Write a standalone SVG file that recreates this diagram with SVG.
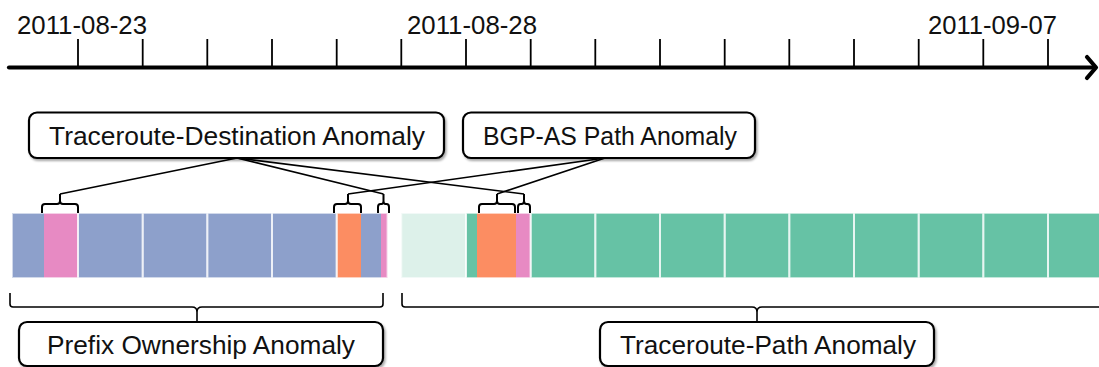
<svg xmlns="http://www.w3.org/2000/svg" width="1099" height="367" viewBox="0 0 1099 367">
  <defs>
    <style>
      .lbl { font-family: "Liberation Sans", Arial, sans-serif; font-size: 26px; fill: #111; }
      .box { fill: #fff; stroke: #000; stroke-width: 2.2; filter: url(#shadow); }
      .tick { stroke: #000; stroke-width: 1.8; }
      .wire { fill: none; stroke: #000; stroke-width: 1.6; }
      .brk { fill: none; stroke: #000; stroke-width: 2; stroke-linejoin: round; }
      .brace { fill: none; stroke: #000; stroke-width: 1.6; }
      .cell { fill: none; stroke: #fff; stroke-opacity: 0.6; stroke-width: 2; }
      .blue { fill: #8da0cb; }
      .pink { fill: #e78ac3; }
      .orange { fill: #fc8d62; }
      .green { fill: #66c2a5; }
      .mint { fill: #ddf1ea; }
    </style>
    <filter id="shadow" x="-5%" y="-20%" width="110%" height="150%">
      <feDropShadow dx="1.5" dy="2" stdDeviation="1.2" flood-color="#000" flood-opacity="0.35"/>
    </filter>
  </defs>

  <!-- time axis -->
  <g id="timeline">
    <line x1="9" y1="67.5" x2="1094" y2="67.5" stroke="#000" stroke-width="4.2" stroke-linecap="round"/>
    <polyline points="1087,57 1096,67.5 1087,78" fill="none" stroke="#000" stroke-width="4.2" stroke-linecap="round" stroke-linejoin="round"/>
    <g class="ticks">
      <line class="tick" x1="78" y1="39" x2="78" y2="66"/>
      <line class="tick" x1="142.7" y1="39" x2="142.7" y2="66"/>
      <line class="tick" x1="207.3" y1="39" x2="207.3" y2="66"/>
      <line class="tick" x1="272" y1="39" x2="272" y2="66"/>
      <line class="tick" x1="336.7" y1="39" x2="336.7" y2="66"/>
      <line class="tick" x1="401.3" y1="39" x2="401.3" y2="66"/>
      <line class="tick" x1="466" y1="39" x2="466" y2="66"/>
      <line class="tick" x1="530.7" y1="39" x2="530.7" y2="66"/>
      <line class="tick" x1="595.3" y1="39" x2="595.3" y2="66"/>
      <line class="tick" x1="660" y1="39" x2="660" y2="66"/>
      <line class="tick" x1="724.7" y1="39" x2="724.7" y2="66"/>
      <line class="tick" x1="789.3" y1="39" x2="789.3" y2="66"/>
      <line class="tick" x1="854" y1="39" x2="854" y2="66"/>
      <line class="tick" x1="918.7" y1="39" x2="918.7" y2="66"/>
      <line class="tick" x1="983.3" y1="39" x2="983.3" y2="66"/>
      <line class="tick" x1="1048" y1="39" x2="1048" y2="66"/>
    </g>
    <text class="lbl" x="17" y="34" textLength="130" lengthAdjust="spacingAndGlyphs">2011-08-23</text>
    <text class="lbl" x="407" y="34" textLength="130" lengthAdjust="spacingAndGlyphs">2011-08-28</text>
    <text class="lbl" x="928" y="34" textLength="129" lengthAdjust="spacingAndGlyphs">2011-09-07</text>
  </g>

  <!-- daily bars -->
  <g id="bars">
    <rect class="blue" x="12" y="213" width="32" height="65"/>
    <rect class="pink" x="44" y="213" width="34" height="65"/>
    <rect class="blue" x="78" y="213" width="258.7" height="65"/>
    <rect class="orange" x="336.7" y="213" width="24.3" height="65"/>
    <rect class="blue" x="361" y="213" width="20" height="65"/>
    <rect class="pink" x="381" y="213" width="6.5" height="65"/>
    <rect class="mint" x="401.3" y="213" width="64.7" height="65"/>
    <rect class="green" x="466" y="213" width="11" height="65"/>
    <rect class="orange" x="477" y="213" width="39" height="65"/>
    <rect class="pink" x="516" y="213" width="14.7" height="65"/>
    <rect class="green" x="530.7" y="213" width="590" height="65"/>
    <!-- day outlines -->
    <rect class="cell" x="12" y="213" width="66" height="65"/>
    <rect class="cell" x="78" y="213" width="64.7" height="65"/>
    <rect class="cell" x="142.7" y="213" width="64.6" height="65"/>
    <rect class="cell" x="207.3" y="213" width="64.7" height="65"/>
    <rect class="cell" x="272" y="213" width="64.7" height="65"/>
    <rect class="cell" x="336.7" y="213" width="50.8" height="65"/>
    <rect class="cell" x="401.3" y="213" width="64.7" height="65"/>
    <rect class="cell" x="466" y="213" width="64.7" height="65"/>
    <rect class="cell" x="530.7" y="213" width="64.6" height="65"/>
    <rect class="cell" x="595.3" y="213" width="64.7" height="65"/>
    <rect class="cell" x="660" y="213" width="64.7" height="65"/>
    <rect class="cell" x="724.7" y="213" width="64.6" height="65"/>
    <rect class="cell" x="789.3" y="213" width="64.7" height="65"/>
    <rect class="cell" x="854" y="213" width="64.7" height="65"/>
    <rect class="cell" x="918.7" y="213" width="64.6" height="65"/>
    <rect class="cell" x="983.3" y="213" width="64.7" height="65"/>
    <rect class="cell" x="1048" y="213" width="64.7" height="65"/>
  </g>

  <!-- connectors: leader lines, small brackets over events, period braces -->
  <g id="connectors">
    <line class="wire" x1="237" y1="158" x2="60" y2="194"/>
    <line class="wire" x1="237" y1="158" x2="383.5" y2="194"/>
    <line class="wire" x1="237" y1="158" x2="524" y2="194"/>
    <line class="wire" x1="605" y1="158" x2="348" y2="194"/>
    <line class="wire" x1="605" y1="158" x2="497" y2="194"/>

    <path class="brk" d="M42,213 V207 Q42,204 45,204 H57 Q60,204 60,201 V194 M60,201 Q60,204 63,204 H75 Q78,204 78,207 V213"/>
    <path class="brk" d="M334,213 V207 Q334,204 337,204 H345 Q348,204 348,201 V194 M348,201 Q348,204 351,204 H358 Q361,204 361,207 V213"/>
    <path class="brk" d="M378,213 V207 Q378,204 380.5,204 H381.5 Q383.5,204 383.5,201 V194 M383.5,201 Q383.5,204 385.5,204 H386.5 Q389,204 389,207 V213"/>
    <path class="brk" d="M479,213 V207 Q479,204 482,204 H494 Q497,204 497,201 V194 M497,201 Q497,204 500,204 H512 Q515,204 515,207 V213"/>
    <path class="brk" d="M518,213 V207 Q518,204 520.5,204 H521.5 Q524,204 524,201 V194 M524,201 Q524,204 526.5,204 H527.5 Q530,204 530,207 V213"/>

    <path class="brace" d="M10,293 V304 Q10,307 13,307 H192 Q197,307 197,312 V322 M197,312 Q197,307 202,307 H380 Q383,307 383,304 V293"/>
    <path class="brace" d="M402,293 V304 Q402,307 405,307 H752 Q757,307 757,312 V322 M757,312 Q757,307 762,307 H1110 Q1113,307 1113,304 V293"/>
  </g>

  <g id="node-traceroute-destination">
    <rect class="box" x="29" y="112.5" width="415" height="45.5" rx="8"/>
    <text class="lbl" x="49" y="145" textLength="376" lengthAdjust="spacingAndGlyphs">Traceroute-Destination Anomaly</text>
  </g>
  <g id="node-bgp-as-path">
    <rect class="box" x="463" y="112.5" width="292" height="45.5" rx="8"/>
    <text class="lbl" x="483" y="145" textLength="254" lengthAdjust="spacingAndGlyphs">BGP-AS Path Anomaly</text>
  </g>
  <g id="node-prefix-ownership">
    <rect class="box" x="19" y="322" width="364" height="44" rx="8"/>
    <text class="lbl" x="47" y="353.5" textLength="308" lengthAdjust="spacingAndGlyphs">Prefix Ownership Anomaly</text>
  </g>
  <g id="node-traceroute-path">
    <rect class="box" x="600" y="322" width="334" height="44" rx="8"/>
    <text class="lbl" x="620" y="353.5" textLength="296" lengthAdjust="spacingAndGlyphs">Traceroute-Path Anomaly</text>
  </g>
</svg>
